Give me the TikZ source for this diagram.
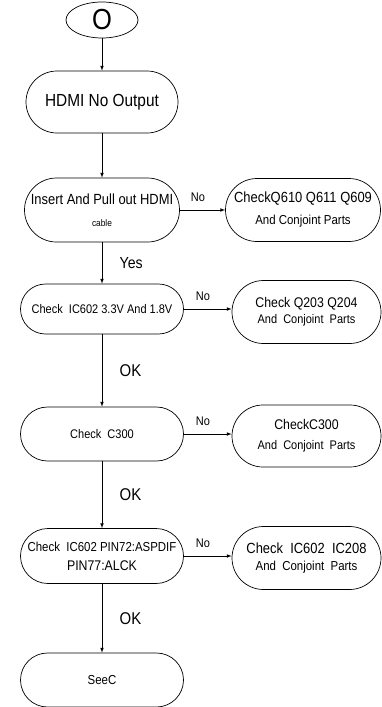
\documentclass[tikz,border=0pt]{standalone}
\usepackage{fontspec}
\setmainfont{Liberation Sans}[FakeStretch=0.88]
\usetikzlibrary{positioning,shapes.geometric,arrows}

\begin{document}
\begin{tikzpicture}[x=1pt,y=-1pt,
	box/.style={rectangle,draw,line width=0.7pt,align=center,inner sep=0pt,
	minimum height=#1,rounded corners=#1/2},
	flow/.style={draw,line width=0.7pt,-latex},
	lbl/.style={font=\fontsize{12.5}{15}\selectfont},
	big/.style={font=\fontsize{17}{20}\selectfont}]
	\useasboundingbox (0,0) rectangle (382,707);
	\node [ellipse,draw,line width=0.7pt,minimum width=72pt,minimum height=36pt,inner sep=0pt,
	font=\fontsize{29}{33}\selectfont, name = start] at (102,20) {O};
	\node [box=62pt,minimum width=152pt,font=\fontsize{17.5}{21}\selectfont, name = hdmi] at (102,102) {HDMI No Output};
	\node [box=64pt,minimum width=155pt,font=\fontsize{14.7}{17}\selectfont, name = insert] at (102,210)
	{Insert And Pull out HDMI\\[5pt]{\fontsize{9.5}{11}\selectfont cable}};
	\node [box=63pt,minimum width=155pt,font=\fontsize{14.7}{17}\selectfont, name = qsix] at (303,210)
	{CheckQ610 Q611 Q609\\[5pt]{\fontsize{13}{15}\selectfont And Conjoint Parts}};
	\node [box=50pt,minimum width=163pt,font=\fontsize{12.5}{15}\selectfont, name = volt] at (102,309)
	{Check\ \ IC602 3.3V And 1.8V};
	\node [box=63pt,minimum width=149pt,font=\fontsize{14}{16}\selectfont, name = qtwo] at (306.5,312)
	{Check Q203 Q204\\[0pt]{\fontsize{12.5}{15}\selectfont And\ \ Conjoint\ \ Parts}};
	\node [box=54pt,minimum width=163pt,font=\fontsize{12.5}{15}\selectfont, name = cap] at (102,434)
	{Check\ \ C300};
	\node [box=62pt,minimum width=149pt,font=\fontsize{14}{16}\selectfont, name = capr] at (306.5,436)
	{CheckC300\\[4pt]{\fontsize{12.5}{15}\selectfont And\ \ Conjoint\ \ Parts}};
	\node [box=55pt,minimum width=163pt,font=\fontsize{13}{15}\selectfont, name = pin] at (102,556)
	{Check\ \ IC602 PIN72:ASPDIF\\[4pt]{\fontsize{14}{16}\selectfont PIN77:ALCK}};
	\node [box=63pt,minimum width=149pt,font=\fontsize{14.7}{17}\selectfont, name = ictwo] at (306.5,558)
	{Check\ \ IC602\ \ IC208\\[0pt]{\fontsize{13}{15}\selectfont And\ \ Conjoint\ \ Parts}};
	\node [box=54pt,minimum width=163pt,font=\fontsize{13}{15}\selectfont, name = seec] at (102,680) {SeeC};
	\draw [flow] (start) -- (hdmi);
	\draw [flow] (hdmi) -- (insert);
	\draw [flow] (insert) -- node [right=14pt,font=\fontsize{16}{19}\selectfont] {Yes} (volt);
	\draw [flow] (volt) -- node [right=14pt,big] {OK} (cap);
	\draw [flow] (cap) -- node [right=14pt,big] {OK} (pin);
	\draw [flow] (pin) -- node [right=14pt,big] {OK} (seec);
	\draw [flow] (insert.east) -- node [lbl,above=5pt,pos=0.4] {No} (insert.east -| qsix.west);
	\draw [flow] (volt.east) -- node [lbl,above=5pt,pos=0.4] {No} (volt.east -| qtwo.west);
	\draw [flow] (cap.east) -- node [lbl,above=5pt,pos=0.4] {No} (cap.east -| capr.west);
	\draw [flow] (pin.east) -- node [lbl,above=5pt,pos=0.4] {No} (pin.east -| ictwo.west);
\end{tikzpicture}
\end{document}
